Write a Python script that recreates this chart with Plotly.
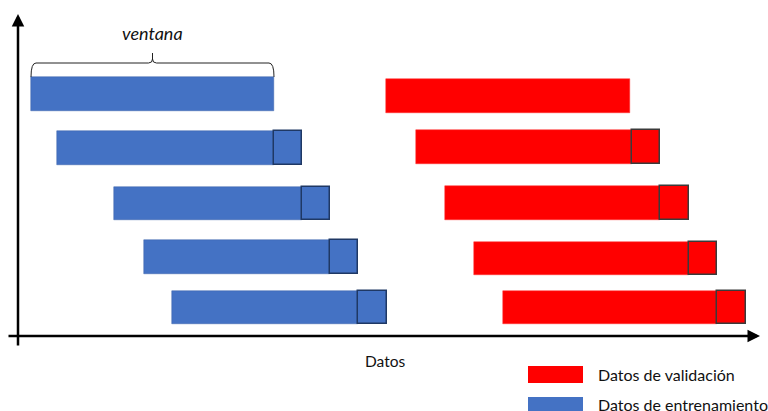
import plotly.graph_objects as go

# ---- data (diagram units = pixels of the original drawing) ----
blue_top = [77, 131, 187, 240, 291]
blue_bottom = [111, 165, 220, 274, 324]
blue_start = [31, 57, 114, 144, 172]
blue_end = [274, 274, 302, 330, 358]
blue_sq_end = [None, 302, 330, 358, 387]

red_top = [79, 130, 186, 242, 291]
red_bottom = [113, 164, 220, 275, 324]
red_start = [386, 416, 445, 474, 503]
red_end = [630, 632, 660, 689, 717]
red_sq_end = [None, 660, 689, 717, 746]

legend_labels = ["Datos de validación", "Datos de entrenamiento"]
axis_label = "Datos"
window_label = "ventana"

BLUE = "#4472C4"
RED = "#FF0000"
FONT = "Lato, 'Open Sans', sans-serif"

fig = go.Figure()


def bar_trace(tops, bottoms, starts, ends, color, line_color, line_w):
    ys, bases, lens, ws = [], [], [], []
    for t, b, s, e in zip(tops, bottoms, starts, ends):
        if e is None:
            continue
        ys.append((t + b) / 2)
        ws.append(b - t)
        bases.append(s)
        lens.append(e - s)
    return go.Bar(orientation="h", y=ys, x=lens, base=bases, width=ws,
                  marker=dict(color=color, line=dict(color=line_color, width=line_w)),
                  showlegend=False, hoverinfo="skip")


fig.add_trace(bar_trace(blue_top, blue_bottom, blue_start, blue_end, BLUE, "#3A62A8", 0.5))
fig.add_trace(bar_trace(blue_top, blue_bottom, blue_end, blue_sq_end, BLUE, "#1F3864", 1.5))
fig.add_trace(bar_trace(red_top, red_bottom, red_start, red_end, RED, "#FF3030", 0.5))
fig.add_trace(bar_trace(red_top, red_bottom, red_end, red_sq_end, RED, "#3A3A3A", 1.5))

shapes = []
annotations = []

# axes with arrows
annotations.append(dict(x=760, y=336, ax=7, ay=336, xref="x", yref="y", axref="x", ayref="y",
                        showarrow=True, arrowhead=2, arrowsize=1, arrowwidth=2.5,
                        arrowcolor="black", text=""))
annotations.append(dict(x=18, y=14, ax=18, ay=347, xref="x", yref="y", axref="x", ayref="y",
                        showarrow=True, arrowhead=2, arrowsize=1, arrowwidth=2.5,
                        arrowcolor="black", text=""))

# brace over the first window
x0, x1 = blue_start[0], blue_end[0]
xm = (x0 + x1) / 2
yb = blue_top[0]
yl = yb - 14
path = (f"M {x0},{yb} Q {x0},{yl} {x0+5},{yl} L {xm-4},{yl} Q {xm},{yl} {xm},{yl-4} "
        f"L {xm},{yl-10} M {xm},{yl-4} Q {xm},{yl} {xm+4},{yl} L {x1-5},{yl} Q {x1},{yl} {x1},{yb}")
shapes.append(dict(type="path", path=path, xref="x", yref="y",
                   line=dict(color="#222222", width=1)))
annotations.append(dict(x=xm, y=33, xref="x", yref="y", text=f"<i>{window_label}</i>",
                        showarrow=False, font=dict(family=FONT, size=18, color="#111111")))

# axis label
annotations.append(dict(x=385, y=361, xref="x", yref="y", text=axis_label, showarrow=False,
                        font=dict(family=FONT, size=15.5, color="#111111")))

# legend swatches
for (yt, yb2), col, lab, ty in [((366, 383), RED, legend_labels[0], 374),
                                ((397, 414), BLUE, legend_labels[1], 404)]:
    shapes.append(dict(type="rect", x0=528, x1=583, y0=yt, y1=yb2, xref="x", yref="y",
                       fillcolor=col, line=dict(width=0)))
    annotations.append(dict(x=596, y=ty, xref="x", yref="y", text=lab, showarrow=False,
                            xanchor="left", font=dict(family=FONT, size=16, color="#111111")))

fig.update_layout(
    width=768, height=411, margin=dict(l=0, r=0, t=0, b=0),
    paper_bgcolor="white", plot_bgcolor="white",
    barmode="overlay", bargap=0,
    xaxis=dict(range=[0, 768], visible=False, fixedrange=True),
    yaxis=dict(range=[411, 0], visible=False, fixedrange=True),
    shapes=shapes, annotations=annotations,
)

fig.write_html("out.html", config={"displayModeBar": False},
               post_script="document.body.style.margin='0';document.body.style.overflow='hidden';")
